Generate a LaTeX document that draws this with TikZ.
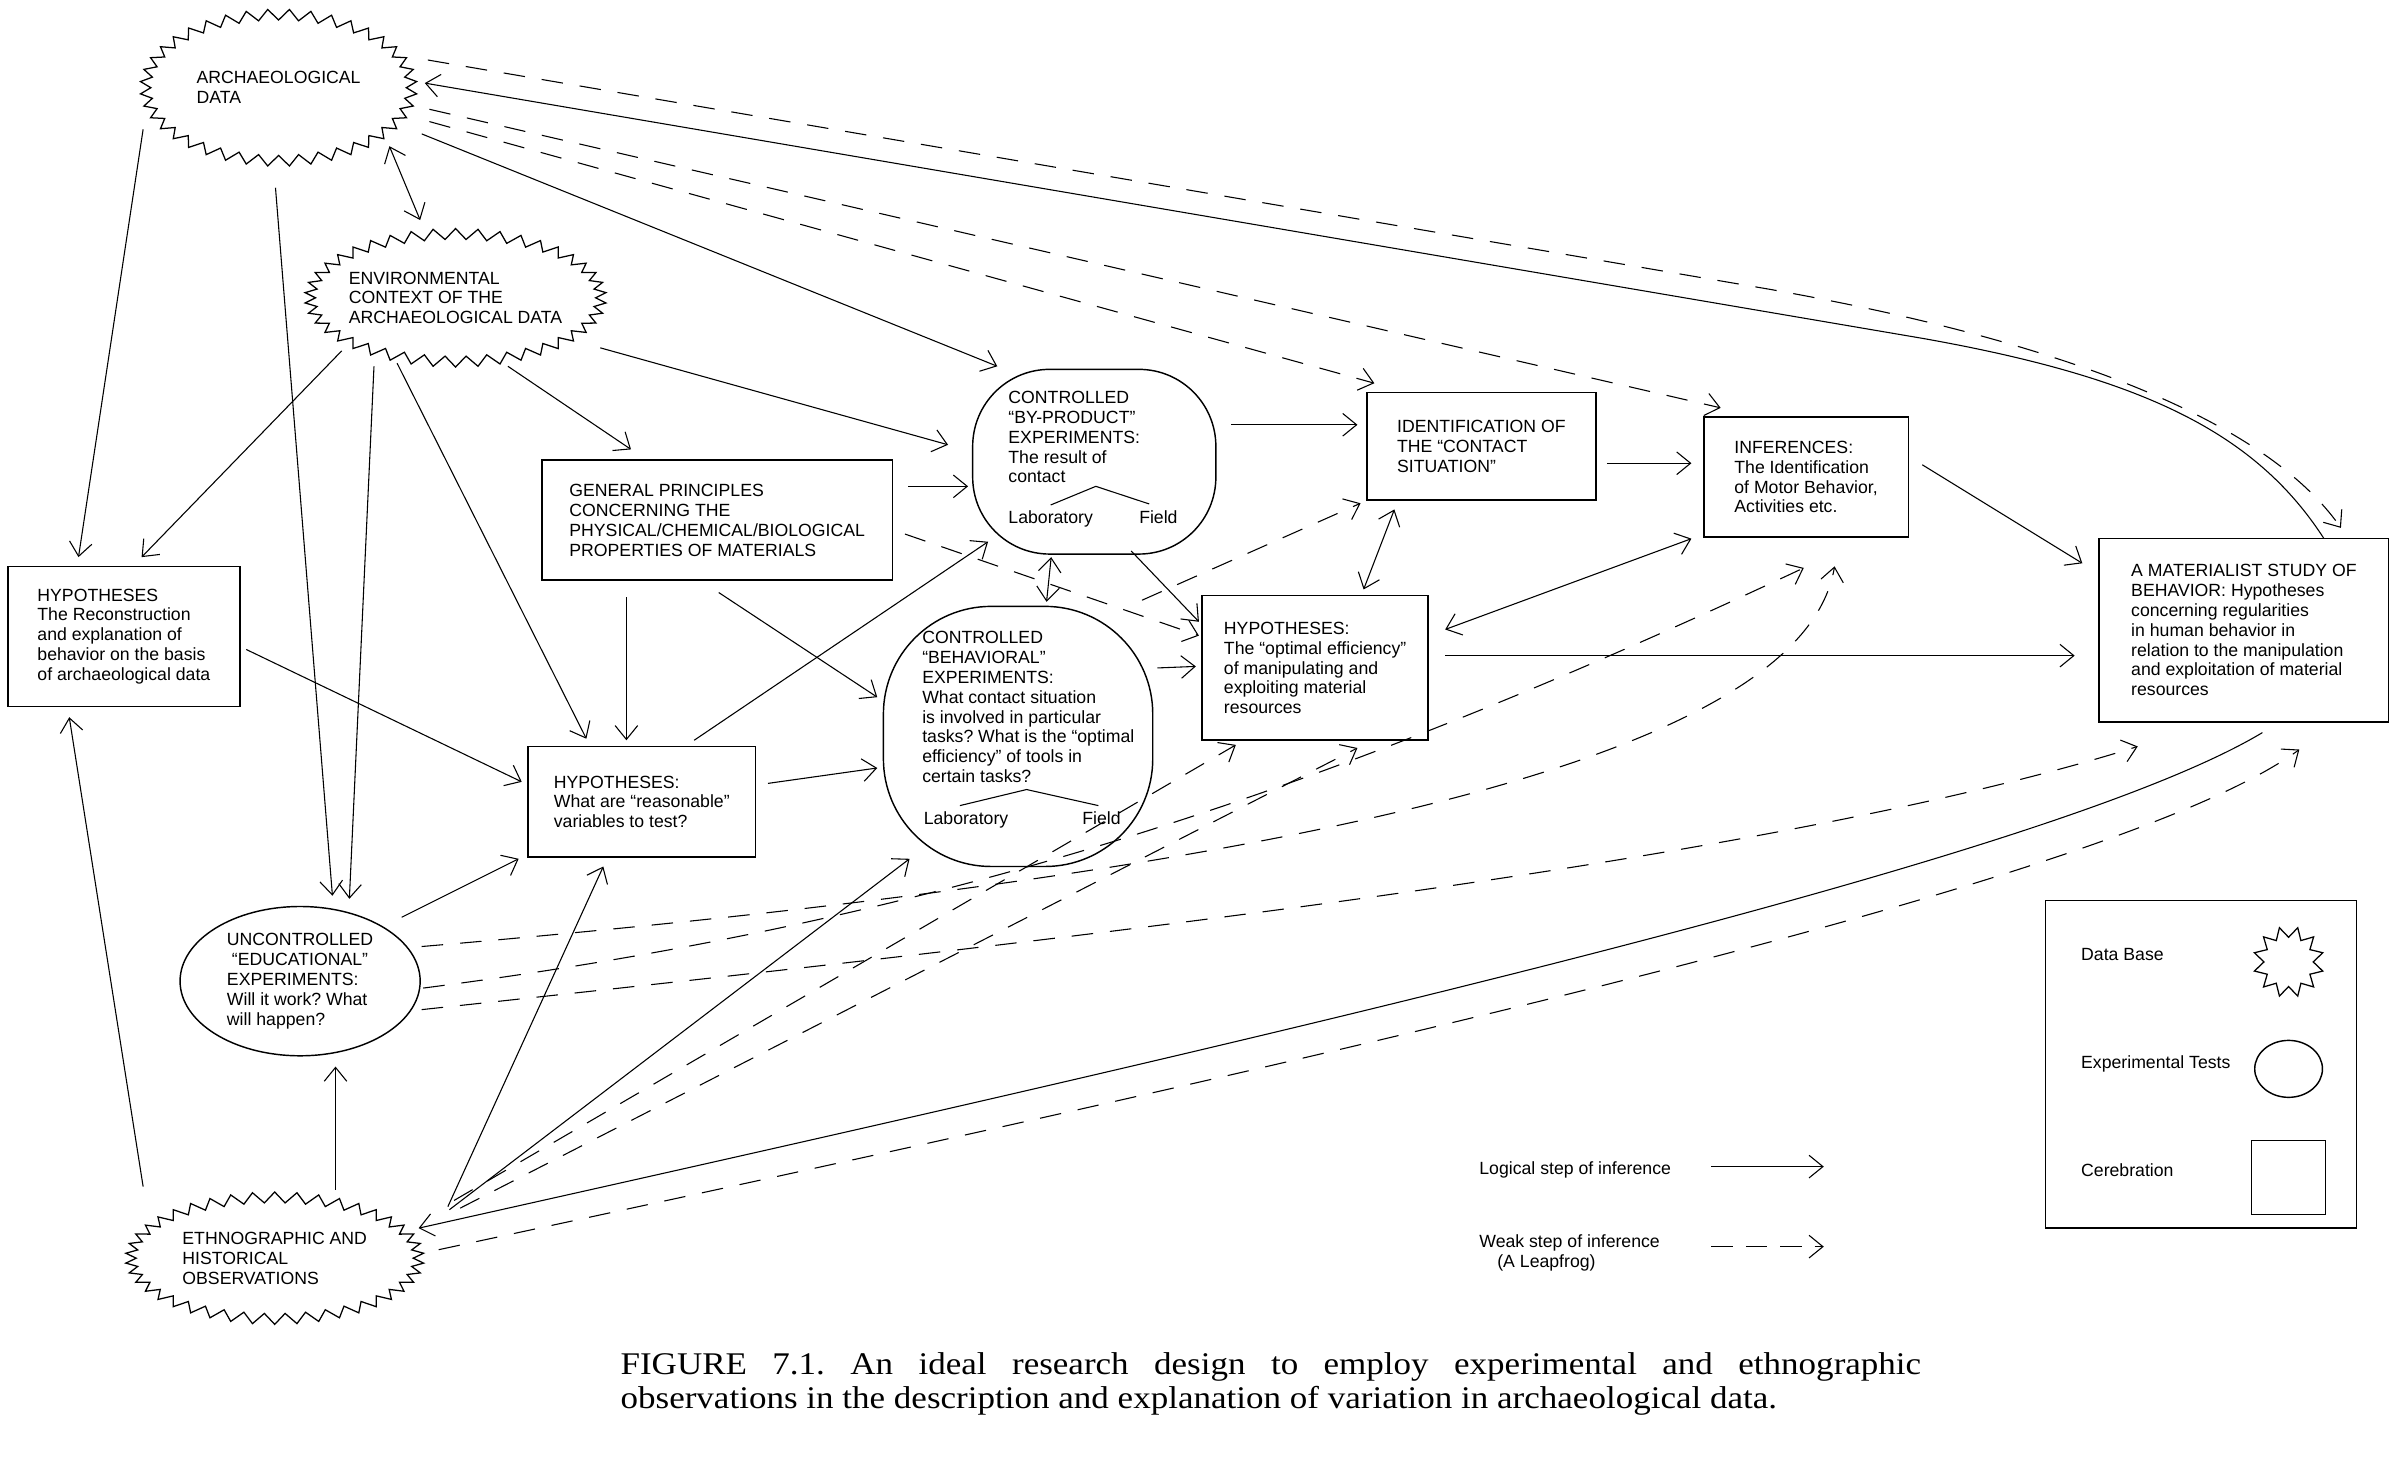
\documentclass[tikz,border=0pt]{standalone}
\usepackage{fontspec}
\setmainfont{Liberation Sans}
\newfontfamily\capfont[FakeStretch=1.11]{Liberation Serif}
\usetikzlibrary{arrows.meta,shapes.geometric}
\newcommand\dfont{\fontsize{9.8pt}{11pt}\selectfont}
\newcommand\burst[5]{%
  \draw[burstline] ({#1+#3},{#2}) \foreach \i in {1,...,#5}{ -- ({#1+(#3+7*mod(\i,2))*cos((\i/#5)*360)},{#2+(#4+7*mod(\i,2))*sin((\i/#5)*360)}) } -- cycle;}
\tikzset{bb/.tip={Straight Barb[length=2.7mm,width=4.4mm]}}
\begin{document}
\frenchspacing
\begin{tikzpicture}[x=0.03cm,y=-0.03cm,
  every node/.style={font=\dfont},
  ln/.style={line width=0.6pt},
  arr/.style={ln,-bb},
  darr/.style={ln,-bb,dash pattern=on 4.2mm off 3.3mm},
  dblarr/.style={ln,bb-bb},
  boxnode/.style={draw,line width=0.9pt,align=left,inner sep=0pt},
  burstnode/.style={ellipse,align=left,inner sep=0pt},
  burstline/.style={line width=0.7pt,line join=miter},
  blob/.style={draw,line width=0.8pt,inner sep=0pt},
  txt/.style={align=left,inner sep=0pt},
]
\useasboundingbox (0,0) rectangle (1562,947.3);

% ---------- data bases (bursts)
\node[burstnode,minimum width=4.98cm,minimum height=2.64cm] (arch) at (181,57) {ARCHAEOLOGICAL\\DATA};
\burst{181}{57}{83}{44}{80}
\node[burstnode,minimum width=5.46cm,minimum height=2.28cm] (env) at (296,193.5) {ENVIRONMENTAL\\CONTEXT OF THE\\ARCHAEOLOGICAL DATA};
\burst{296}{193.5}{91}{38}{84}
\node[burstnode,minimum width=5.4cm,minimum height=2.16cm] (ethno) at (178.5,817.5) {ETHNOGRAPHIC AND\\HISTORICAL\\OBSERVATIONS};
\burst{178.5}{817.5}{90}{36}{84}

% ---------- experimental tests
\node[blob,ellipse,align=left,minimum width=4.68cm,minimum height=2.91cm] (unc) at (195,637.5)
  {UNCONTROLLED\\\ ``EDUCATIONAL''\\EXPERIMENTS:\\Will it work? What\\will happen?};

\node[blob,rounded corners=1.5cm,minimum width=4.74cm,minimum height=3.6cm] (byp) at (711,300) {};
\node[txt,anchor=north west] (bypt) at (655,254) {CONTROLLED\\``BY-PRODUCT''\\EXPERIMENTS:\\The result of\\contact};
\node[txt,anchor=base west] (bypl) at (655,340) {Laboratory};
\node[txt,anchor=base west] (bypf) at (740,340) {Field};
\coordinate (bypapex) at (712,316);
\draw[ln] ([yshift=0.1cm]bypl.north) -- (bypapex) -- ([shift={(-6,-4)}]bypf.north);

\node[blob,rounded corners=2.1cm,minimum width=5.25cm,minimum height=5.07cm] (beh) at (661.5,478.5) {};
\node[txt,anchor=north west] (beht) at (599,410) {CONTROLLED\\``BEHAVIORAL''\\EXPERIMENTS:\\What contact situation\\is involved in particular\\tasks? What is the ``optimal\\efficiency'' of tools in\\certain tasks?};
\node[txt,anchor=base west] (behl) at (600,536) {Laboratory};
\node[txt,anchor=base west] (behf) at (703,536) {Field};
\coordinate (behapex) at (667,513);
\draw[ln] ([shift={(-4,-4)}]behl.north) -- (behapex) -- ([shift={(-2,-4)}]behf.north);

% ---------- cerebration boxes
\node[boxnode,minimum width=4.53cm,minimum height=2.73cm] (hypl) at (80.5,413.5)
  {HYPOTHESES\\The Reconstruction\\and explanation of\\behavior on the basis\\of archaeological data};
\node[boxnode,minimum width=6.84cm,minimum height=2.34cm] (gp) at (466,338)
  {GENERAL PRINCIPLES\\CONCERNING THE\\PHYSICAL/CHEMICAL/BIOLOGICAL\\PROPERTIES OF MATERIALS};
\node[boxnode,minimum width=4.44cm,minimum height=2.16cm] (hypr) at (417,521)
  {HYPOTHESES:\\What are ``reasonable''\\variables to test?};
\node[boxnode,minimum width=4.47cm,minimum height=2.1cm] (ident) at (962.5,290)
  {IDENTIFICATION OF\\THE ``CONTACT\\SITUATION''};
\node[boxnode,minimum width=3.99cm,minimum height=2.34cm] (inf) at (1173.5,310)
  {INFERENCES:\\The Identification\\of Motor Behavior,\\Activities etc.};
\node[boxnode,minimum width=4.41cm,minimum height=2.82cm] (hypo) at (854.5,434)
  {HYPOTHESES:\\The ``optimal efficiency''\\of manipulating and\\exploiting material\\resources};
\node[boxnode,minimum width=5.64cm,minimum height=3.57cm] (mat) at (1458,409.5)
  {A MATERIALIST STUDY OF\\BEHAVIOR: Hypotheses\\concerning regularities\\in human behavior in\\relation to the manipulation\\and exploitation of material\\resources};

% ---------- logical steps (solid)
\draw[arr] ([shift={(-88,27)}]arch.center) -- ([shift={(-29.5,-51.5)}]hypl.center);
\draw[arr] ([shift={(-2,65)}]arch.center) -- ([shift={(21,-55.5)}]unc.center);
\draw[dblarr] ([shift={(72,38)}]arch.center) -- ([shift={(-23,-50.5)}]env.center);
\draw[arr] ([shift={(93,30)}]arch.center) -- ([shift={(-63,-62)}]byp.center);
\draw[arr] ([shift={(-74,34.5)}]env.center) -- ([shift={(11.5,-51.5)}]hypl.center);
\draw[arr] ([shift={(-53,44.5)}]env.center) -- ([shift={(32,-53.5)}]unc.center);
\draw[arr] ([shift={(-38,42.5)}]env.center) -- ([shift={(-36,-41)}]hypr.center);
\draw[arr] ([shift={(34,44.5)}]env.center) -- ([shift={(-56,-46)}]gp.center);
\draw[arr] ([shift={(94,32.5)}]env.center) -- ([shift={(-95,-11)}]byp.center);
\draw[arr] ([shift={(124,-22)}]gp.center) -- ([shift={(-82,16)}]byp.center);
\draw[arr] ([shift={(-59,50)}]gp.center) -- ([shift={(-10,-40)}]hypr.center);
\draw[arr] ([shift={(1,47)}]gp.center) -- ([shift={(-91.5,-25.5)}]beh.center);
\draw[arr] ([shift={(79.5,8.5)}]hypl.center) -- ([shift={(-78,-13)}]hypr.center);
\draw[arr] ([shift={(34,-40)}]hypr.center) -- ([shift={(-69,52)}]byp.center);
\draw[arr] ([shift={(82,-12)}]hypr.center) -- ([shift={(-91.5,20.5)}]beh.center);
\draw[dblarr] ([shift={(-28,62)}]byp.center) -- ([shift={(18.5,-87.5)}]beh.center);
\draw[arr] ([shift={(24,58)}]byp.center) -- ([shift={(-75.5,-30)}]hypo.center);
\draw[arr] ([shift={(89,-24)}]byp.center) -- ([shift={(-80.5,-14)}]ident.center);
\draw[arr] ([shift={(90.5,-44.5)}]beh.center) -- ([shift={(-77.5,-1)}]hypo.center);
\draw[dblarr] ([shift={(-56.5,41)}]ident.center) -- ([shift={(31.5,-51)}]hypo.center);
\draw[arr] ([shift={(81.5,11)}]ident.center) -- ([shift={(-74.5,-9)}]inf.center);
\draw[dblarr] ([shift={(-74.5,40)}]inf.center) -- ([shift={(84.5,-25)}]hypo.center);
\draw[arr] ([shift={(75.5,-8)}]inf.center) -- ([shift={(-105,-43.5)}]mat.center);
\draw[arr] ([shift={(84.5,-8)}]hypo.center) -- ([shift={(-110,16.5)}]mat.center);
\draw[arr] ([shift={(52,-59.5)}]mat.center) .. controls (1465,280) and (1390,245) .. (1250,220) -- ([shift={(95,-3)}]arch.center);
\draw[arr] ([shift={(12,66.5)}]mat.center) .. controls (1330,560) and (800,680) .. ([shift={(93.5,-19.5)}]ethno.center);
\draw[arr] ([shift={(39.5,-44.5)}]ethno.center) -- ([shift={(23,55.5)}]unc.center);
\draw[arr] ([shift={(112.5,-33.5)}]ethno.center) -- ([shift={(-25,42)}]hypr.center);
\draw[arr] ([shift={(113.5,-31.5)}]ethno.center) -- ([shift={(-70.5,79.5)}]beh.center);
\draw[arr] ([shift={(66,-41.5)}]unc.center) -- ([shift={(-80,37)}]hypr.center);
\draw[arr] ([shift={(-85.5,-46.5)}]ethno.center) -- ([shift={(-35.5,52.5)}]hypl.center);

% ---------- weak steps (dashed)
\draw[darr] ([shift={(97,-18)}]arch.center) -- (1150,188) .. controls (1330,220) and (1470,270) .. ([shift={(63,-66.5)}]mat.center);
\draw[darr] ([shift={(98,22)}]arch.center) -- ([shift={(-69.5,-41)}]ident.center);
\draw[darr] ([shift={(98,14)}]arch.center) -- ([shift={(-55.5,-45)}]inf.center);
\draw[darr] ([shift={(122,9)}]gp.center) -- ([shift={(-75.5,-21)}]hypo.center);
\draw[darr] ([shift={(80.5,-88.5)}]beh.center) -- ([shift={(-78.5,37)}]ident.center);
\draw[darr] ([shift={(116.5,-37.5)}]ethno.center) -- ([shift={(-51.5,50)}]hypo.center);
\draw[darr] ([shift={(120.5,-32.5)}]ethno.center) -- ([shift={(27.5,52)}]hypo.center);
\draw[darr] ([shift={(79,-22.5)}]unc.center) .. controls (800,570) and (1170,500) .. ([shift={(18.5,58)}]inf.center);
\draw[darr] ([shift={(80,4.5)}]unc.center) .. controls (600,600) and (850,520) .. ([shift={(-1.5,59)}]inf.center);
\draw[darr] ([shift={(79,18.5)}]unc.center) .. controls (700,610) and (1150,560) .. ([shift={(-69,75.5)}]mat.center);
\draw[darr] ([shift={(106.5,-5.5)}]ethno.center) .. controls (900,680) and (1380,570) .. ([shift={(36,77.5)}]mat.center);

% ---------- legend
\node[txt,anchor=west] (llog) at (961,760) {Logical step of inference};
\node[txt,anchor=north west] (lweak) at (961,802) {Weak step of inference\\\hspace{0.35cm}(A Leapfrog)};
\coordinate (ls1) at (1112,758);
\coordinate (ls2) at (1185,758);
\coordinate (lw1) at (1112,810);
\coordinate (lw2) at (1185,810);
\draw[arr] (ls1) -- (ls2);
\draw[ln,-bb,dash pattern=on 4.2mm off 2.5mm] (lw1) -- (lw2);

\node[draw,line width=0.9pt,minimum width=6.06cm,minimum height=6.39cm,inner sep=0pt] (leg) at (1430,691.5) {};
\node[txt,anchor=west] (ldb) at (1352,620) {Data Base};
\node[txt,anchor=west] (let) at (1352,691) {Experimental Tests};
\node[txt,anchor=west] (lcer) at (1352,760) {Cerebration};
\node[circle,minimum size=1.38cm,inner sep=0pt] (lstar) at (1487,625) {};
\burst{1487}{625}{16}{16}{24}
\node[draw,ellipse,line width=0.8pt,minimum width=1.32cm,minimum height=1.11cm,inner sep=0pt] (lell) at (1487,694.5) {};
\node[draw,line width=0.8pt,minimum width=1.44cm,minimum height=1.44cm,inner sep=0pt] (lsq) at (1487,765) {};

% ---------- caption
\node[anchor=base west,inner sep=0pt,font=\capfont\fontsize{17.5pt}{20pt}\selectfont] (cap1) at (403,893)
  {\makebox[25.35cm][s]{FIGURE 7.1. An ideal research design to employ experimental and ethnographic}};
\node[anchor=base west,inner sep=0pt,font=\capfont\fontsize{17.5pt}{20pt}\selectfont] (cap2) at (403,915)
  {observations in the description and explanation of variation in archaeological data.};
\end{tikzpicture}
\end{document}
